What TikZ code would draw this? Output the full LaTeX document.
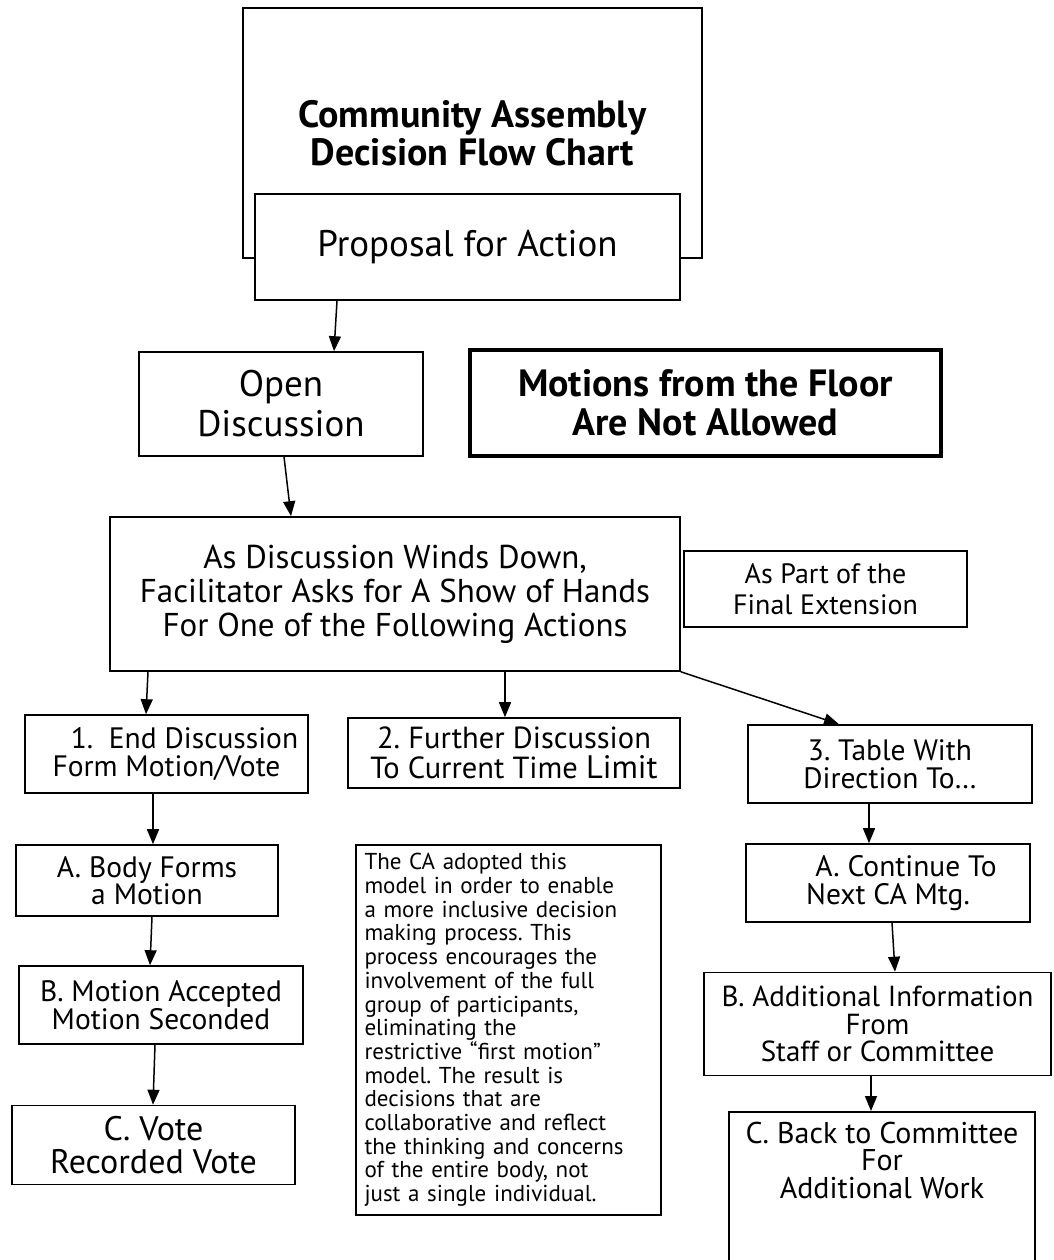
\documentclass[tikz,border=0pt]{standalone}
\usepackage{fontspec}
\setmainfont{PT Sans}
\usetikzlibrary{arrows.meta}
\newcommand{\setfs}[2]{\fontsize{#1}{#2}\selectfont}
\frenchspacing
\tikzset{
  box/.style     = {shape=rectangle, draw, line width=1.6pt,
                    fill=white, align=center, inner sep=0pt},
  heading/.style = {box, font=\setfs{38}{38}\bfseries},
  bigbox/.style  = {box, font=\setfs{37}{40}},
  warn/.style    = {box, line width=3.5pt, font=\setfs{38}{39}\bfseries},
  stepbox/.style = {box, font=\setfs{29.5}{27.5}},
  note/.style    = {box, align=left, font=\setfs{23}{23.7}},
  arr/.style     = {line width=1.5pt, -{Triangle[length=15pt,width=12pt]}}
}

\begin{document}
\begin{tikzpicture}[x=1pt, y=-1pt]
\useasboundingbox (0,0) rectangle (1053,1260);

% top
\node [heading, minimum width=459, minimum height=250] (title) at (472.5,133)
  {Community Assembly\\Decision Flow Chart};
\node [bigbox, minimum width=425, minimum height=106] (proposal) at (467.5,247)
  {Proposal for Action};

% discussion
\node [bigbox, minimum width=284, minimum height=104] (open) at (281,404)
  {Open\\Discussion};
\node [warn, minimum width=471, minimum height=106] (nofloor) at (705.5,403)
  {Motions from the Floor\\Are Not Allowed};
\node [box, font=\setfs{33}{34}, minimum width=570, minimum height=154] (winds) at (395,594)
  {As Discussion Winds Down,\\Facilitator Asks for A Show of Hands\\For One of the Following Actions};
\node [box, font=\setfs{28}{31}, minimum width=283, minimum height=76] (final) at (825.5,589)
  {As Part of the\\Final Extension};

% three actions
\node [stepbox, minimum width=283, minimum height=78] (endvote) at (166.5,754)
  {\hspace*{36pt}1.\ \ End Discussion\\Form Motion/Vote};
\node [stepbox, font=\setfs{30.5}{29.5}, minimum width=332, minimum height=70] (further) at (514,753)
  {2. Further Discussion\\To Current Time {\setfs{32.5}{29.5}Limit}};
\node [stepbox, minimum width=284, minimum height=78] (tablewith) at (890,764)
  {3. Table With\\Direction To\ldots};

% column 1
\node [stepbox, minimum width=262, minimum height=71] (bodyforms) at (147,880.5)
  {A. Body Forms\\a Motion};
\node [stepbox, minimum width=284, minimum height=78] (accepted) at (161,1005)
  {B. Motion Accepted\\Motion Seconded};
\node [stepbox, font=\setfs{34}{32.5}, minimum width=283, minimum height=79] (recorded) at (153.5,1145)
  {C. Vote\\Recorded Vote};

% note
\node [note, minimum width=305, minimum height=370, text width=288] (why) at (508.5,1030)
  {The CA adopted this\\model in order to enable\\a more inclusive decision\\making process. This\\process encourages the\\involvement of the full\\group of participants,\\eliminating the\\restrictive “first motion”\\model. The result is\\decisions that are\\collaborative and reflect\\the thinking and concerns\\of the entire body, not\\just a single individual.};

% column 3
\node [stepbox, minimum width=284, minimum height=78] (nextmtg) at (888,883)
  {\hspace*{36pt}A. Continue To\\Next CA Mtg.};
\node [stepbox, font=\setfs{29}{27.5}, minimum width=347, minimum height=103] (moreinfo) at (877.5,1024)
  {B. Additional Information\\From\\Staff or Committee};
\node [box, anchor=north, minimum width=306, minimum height=180] (backbox) at (882,1111) {};
\node [font=\setfs{30}{27.5}, align=center] (backtext) at (882,1160)
  {C. Back to Committee\\For\\Additional Work};

% arrows
\draw [arr] (proposal.south -| 337,0) -- (open.north -| 334,0);
\draw [arr] (open.south -| 284,0) -- (winds.north -| 291,0);
\draw [arr] (winds.south -| 148,0) -- (endvote.north -| 146,0);
\draw [arr] (winds.south -| 505,0) -- (further.north -| 505,0);
\draw [arr] (winds.south east) -- (tablewith.north -| 839,0);
\draw [arr] (endvote.south -| 153,0) -- (bodyforms.north -| 153,0);
\draw [arr] (bodyforms.south -| 152,0) -- (accepted.north -| 150,0);
\draw [arr] (accepted.south -| 155,0) -- (recorded.north -| 153,0);
\draw [arr] (tablewith.south -| 869,0) -- (nextmtg.north -| 869,0);
\draw [arr] (nextmtg.south -| 892,0) -- (moreinfo.north -| 895,0);
\draw [arr] (moreinfo.south -| 871,0) -- (backbox.north -| 871,0);
\end{tikzpicture}
\end{document}
